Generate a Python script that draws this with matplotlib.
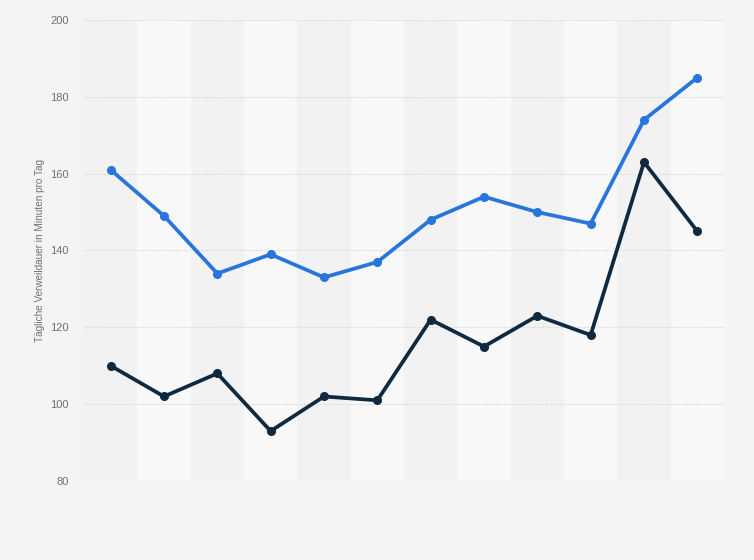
import matplotlib

matplotlib.use("Agg")

import matplotlib.pyplot as plt

# 12 periods, no x labels shown in the reference
periods = list(range(12))
series_blue = [161, 149, 134, 139, 133, 137, 148, 154, 150, 147, 174, 185]
series_dark = [110, 102, 108, 93, 102, 101, 122, 115, 123, 118, 163, 145]
y_ticks = [80, 100, 120, 140, 160, 180, 200]
y_label = "Tägliche Verweildauer in Minuten pro Tag"

plt.rcParams["font.family"] = ["Liberation Sans", "DejaVu Sans"]

fig = plt.figure(figsize=(7.54, 5.6), dpi=100)
fig.patch.set_facecolor("#f4f4f4")
ax = fig.add_axes([84 / 754, 1 - 481 / 560, 640 / 754, 461 / 560])
ax.set_facecolor("#f2f2f2")

for i in periods:
    if i % 2 == 1:
        ax.axvspan(i - 0.5, i + 0.5, color="#f8f8f8", zorder=0, lw=0)

ax.plot(periods, series_blue, color="#2876dd", lw=2.7, marker="o", ms=5.5, zorder=3,
        solid_joinstyle="round")
ax.plot(periods, series_dark, color="#0f2a40", lw=2.7, marker="o", ms=5.5, zorder=3,
        solid_joinstyle="round")

ax.set_xlim(-0.5, 11.5)
ax.set_ylim(80, 200)
ax.set_yticks(y_ticks)
ax.set_xticks([])
ax.grid(axis="y", color="#d2d2d2", linestyle=(0, (1, 1.5)), linewidth=0.8, zorder=1)
ax.set_axisbelow(True)
for spine in ax.spines.values():
    spine.set_visible(False)
ax.tick_params(axis="y", length=0, pad=11, labelsize=8, labelcolor="#707070")
ax.set_ylabel(y_label, fontsize=7.2, color="#707070", labelpad=4)

fig.savefig("out.png", dpi=100, facecolor=fig.get_facecolor())
